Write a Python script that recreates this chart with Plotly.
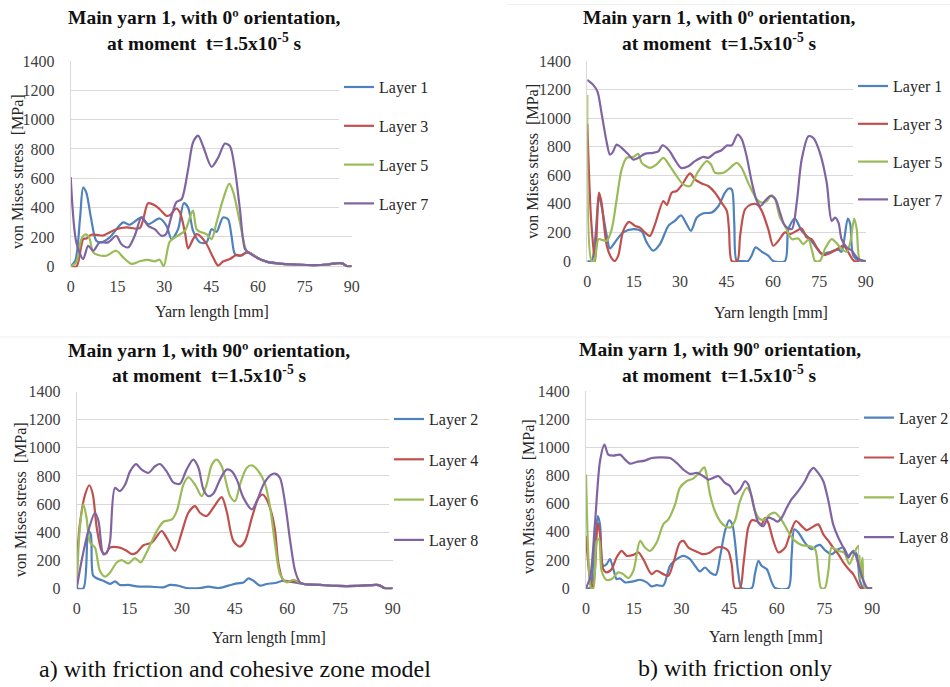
import plotly.graph_objects as go

# ---------------------------------------------------------------------------
# von Mises stress along main yarn 1 (x: yarn length [mm], y: stress [MPa])
# ---------------------------------------------------------------------------

# Common tail shared by all layers once the stress wave has passed
tail_x = [60, 63, 67, 72, 78, 82, 85, 87, 88.5, 90]
tail_y = [55, 30, 18, 12, 8, 12, 20, 20, 0, 0]

# (a) friction + cohesive zone model, 0 deg orientation
a0_l1_x = [0, 1.5, 3, 4.0, 5.0, 6.5, 8.2, 9.8, 12.5, 16.8, 18.9, 22.7, 24.8, 28.5, 30.7, 32.3, 34.4,
           36.2, 37.6, 39.2, 41.4, 43.5, 45.1, 46.7, 48.8, 50.4, 51.5, 52.6, 54.2, 56.3, 57.5] + tail_x
a0_l1_y = [0, 40, 330, 536, 502, 330, 174, 163, 197, 299, 283, 333, 287, 326, 276, 185, 253,
           430, 400, 242, 163, 163, 253, 235, 333, 321, 208, 84, 72, 95, 90] + tail_y

a0_l3_x = [0, 1.9, 4.0, 5.0, 6.6, 8.8, 10.4, 14.6, 17.9, 22.1, 24.8, 26.9, 28.5, 30.7, 31.7, 33.9, 35.0,
           36.6, 37.6, 39.2, 40.3, 41.4, 43.5, 45.6, 47.2, 48.8, 51.0, 53.1, 54.7, 56.3, 57.5] + tail_x
a0_l3_y = [0, 0, 185, 190, 215, 213, 210, 253, 265, 260, 430, 416, 389, 344, 348, 394, 366,
           231, 122, 185, 219, 208, 152, 61, 5, 32, 50, 77, 72, 95, 90] + tail_y

a0_l5_x = [0, 1.8, 3.4, 4.8, 5.9, 7.2, 8.8, 11.4, 14.6, 16.8, 19.5, 22.1, 24.8, 26.9, 28.5, 29.8, 31.7,
           33.9, 36.6, 38.7, 39.2, 40.3, 41.4, 43.5, 45.1, 46.7, 48.8, 50.8, 52.1, 54.2, 56.3, 57.5] + tail_x
a0_l5_y = [0, 27, 185, 217, 197, 95, 77, 72, 106, 61, 16, 34, 43, 34, 45, 0, 167,
           204, 242, 366, 380, 253, 235, 219, 185, 298, 457, 563, 502, 298, 106, 90] + tail_y

a0_l7_x = [0, 1.8, 4.0, 5.6, 7.2, 9.3, 12.0, 14.6, 16.2, 18.4, 20.5, 22.7, 24.8, 26.9, 29.1, 30.5, 32.3,
           33.9, 35.5, 37.6, 39.2, 40.8, 42.4, 45.1, 47.2, 49.4, 51.0, 52.6, 54.2, 55.8, 56.9] + tail_x
a0_l7_y = [608, 163, 50, 140, 106, 163, 163, 208, 152, 129, 208, 333, 276, 253, 208, 219, 344,
           439, 457, 660, 846, 891, 819, 679, 740, 837, 819, 660, 389, 118, 95] + tail_y

# (b) friction only, 0 deg orientation
b0_l1_x = [0, 1.4, 3.8, 4.6, 6.3, 7.3, 8.9, 11.6, 14.9, 17.6, 19.2, 21.3, 23.5, 26.2, 28.3, 30.3, 32.1,
           33.5, 35.4, 37.5, 40.2, 42.4, 44.5, 45.6, 46.7, 47.5, 48.3, 49.9, 52.0, 53.1, 54.4, 56.4, 58.5,
           60.1, 63.9, 65.0, 67.1, 69.3, 71.5, 73.6, 75.8, 77.9, 81.2, 82.2, 84.2, 85.0, 86.0, 88.2, 90]
b0_l1_y = [0, 0, 455, 385, 176, 88, 130, 200, 223, 207, 130, 72, 118, 246, 281, 320, 258,
           211, 304, 334, 339, 385, 478, 506, 501, 269, 0, 0, 0, 37, 95, 65, 37,
           0, 0, 223, 297, 211, 165, 107, 49, 60, 79, 65, 297, 258, 37, 0, 0]

b0_l3_x = [0, 1.2, 2.5, 3.8, 4.6, 6.3, 7.9, 8.9, 10.0, 11.6, 13.5, 15.4, 17.0, 19.2, 20.3, 21.9, 24.6,
           25.7, 27.3, 28.9, 30.5, 33.2, 34.8, 37.0, 39.1, 41.3, 43.4, 45.1, 45.8, 46.7, 48.5, 49.4, 51.0,
           53.1, 54.8, 56.4, 58.5, 60.1, 61.8, 63.9, 65.5, 67.7, 69.3, 70.9, 72.5, 74.2, 76.3, 78.5, 81.1,
           82.8, 84.4, 86.3, 90]
b0_l3_y = [960, 300, 0, 478, 409, 107, 19, 0, 37, 211, 274, 246, 234, 188, 176, 258, 420,
           392, 478, 490, 529, 613, 571, 543, 525, 478, 409, 351, 223, 0, 0, 176, 362,
           397, 397, 351, 223, 107, 142, 200, 188, 211, 228, 165, 153, 95, 42, 56, 88,
           107, 60, 0, 0]

b0_l5_x = [0, 1.4, 2.2, 3.6, 4.6, 6.3, 7.9, 9.5, 11.1, 12.7, 14.9, 16.5, 17.6, 20.3, 22.4, 24.6, 26.7,
           28.9, 31.0, 33.2, 35.9, 38.6, 40.0, 41.3, 44.0, 45.6, 48.3, 49.9, 52.0, 54.8, 56.4, 58.0, 59.6,
           60.7, 62.3, 63.9, 66.1, 68.2, 69.8, 71.5, 72.8, 73.6, 75.2, 76.8, 79.0, 80.6, 82.2, 83.9, 85.0,
           86.3, 87.1, 88.2, 90]
b0_l5_y = [1163, 0, 0, 153, 149, 142, 223, 432, 641, 722, 729, 750, 687, 652, 676, 722, 664,
           594, 536, 525, 629, 699, 676, 618, 618, 641, 687, 652, 548, 432, 409, 420, 460,
           432, 304, 246, 153, 158, 118, 149, 60, 0, 0, 84, 153, 125, 84, 65, 130,
           297, 223, 0, 0]

b0_l7_x = [0, 1.9, 3.3, 4.6, 6.3, 7.3, 8.1, 9.5, 11.1, 13.3, 14.9, 16.5, 18.6, 21.3, 23.0, 24.3, 26.2,
           28.3, 30.3, 32.7, 34.8, 37.5, 39.1, 41.3, 43.4, 45.1, 46.7, 48.6, 49.9, 51.5, 53.1, 54.8, 56.0,
           57.4, 59.1, 60.7, 62.3, 63.9, 66.1, 67.7, 69.3, 71.5, 73.1, 75.2, 77.4, 79.0, 80.1, 81.2, 82.2,
           83.9, 85.5, 87.6, 90]
b0_l7_y = [1268, 1233, 1186, 1036, 827, 745, 757, 815, 792, 745, 710, 722, 750, 757, 768, 810, 780,
           710, 652, 664, 699, 729, 722, 757, 775, 808, 810, 885, 854, 734, 560, 420, 385,
           420, 455, 437, 339, 246, 223, 409, 710, 873, 861, 757, 548, 281, 304, 269, 153,
           95, 72, 14, 0]

# (a) friction + cohesive zone model, 90 deg orientation
tail90_x = [64.6, 69.3, 74.1, 79.8, 85.5, 86.4, 87.8, 90]
tail90_y = [31, 24, 17, 17, 24, 19, 0, 0]

a90_l2_x = [0, 1.9, 3.3, 4.0, 4.7, 6.2, 7.6, 9.5, 10.9, 12.3, 14.7, 17.1, 20.9, 24.7, 26.6, 28.5, 31.3,
            35.1, 37.5, 40.4, 43.2, 45.6, 47.5, 48.9, 50.3, 52.2, 54.1, 56.5, 58.9, 60.8] + tail90_x
a90_l2_y = [0, 0, 408, 385, 90, 66, 54, 31, 50, 24, 24, 14, 12, 7, 24, 21, 2,
            2, 12, 2, 19, 35, 42, 71, 54, 19, 31, 38, 54, 47] + tail90_y

a90_l4_x = [0, 0.9, 2.4, 3.6, 4.6, 5.7, 7.1, 8.1, 9.5, 12.3, 14.2, 15.7, 17.1, 19.0, 21.4, 24.2, 25.6,
            28.0, 29.9, 31.8, 33.7, 35.1, 37.0, 38.9, 41.3, 42.7, 44.6, 46.5, 48.0, 49.9, 51.8, 53.0, 54.1,
            55.6, 56.5, 57.5, 58.9, 60.8, 62.7] + tail90_x
a90_l4_y = [172, 456, 668, 734, 668, 432, 267, 243, 290, 290, 267, 243, 255, 307, 326, 408, 361,
            267, 397, 538, 585, 538, 515, 574, 649, 550, 338, 297, 338, 503, 644, 668, 633,
            526, 408, 172, 54, 47, 47] + tail90_y

a90_l6_x = [0, 0.9, 1.9, 2.8, 3.8, 5.2, 6.6, 8.1, 9.5, 11.4, 12.8, 14.7, 16.6, 18.2, 19.9, 22.8, 24.7,
            27.1, 28.5, 30.4, 31.8, 33.7, 35.6, 37.0, 38.5, 39.9, 41.3, 43.7, 45.1, 46.5, 48.4, 49.9, 51.8,
            53.7, 55.1, 56.5, 57.9, 59.8, 61.7, 63.6] + tail90_x
a90_l6_y = [0, 432, 597, 503, 326, 290, 125, 83, 113, 184, 201, 177, 215, 184, 255, 408, 474,
            491, 550, 739, 791, 739, 656, 739, 881, 916, 869, 656, 621, 739, 857, 876, 833,
            739, 574, 314, 102, 42, 61, 42] + tail90_y

a90_l8_x = [0, 1.4, 3.3, 5.2, 6.2, 7.6, 8.6, 9.5, 10.9, 12.3, 13.8, 15.2, 16.9, 18.5, 20.4, 22.3, 23.7,
            25.6, 27.5, 29.4, 31.3, 33.2, 34.7, 36.1, 37.5, 38.9, 40.8, 42.7, 44.2, 45.6, 47.5, 49.9, 51.3,
            53.2, 55.1, 56.5, 57.9, 59.4, 60.8, 62.2, 63.6] + tail90_x
a90_l8_y = [0, 196, 408, 538, 479, 243, 255, 338, 715, 692, 739, 833, 885, 845, 822, 869, 885,
            833, 755, 744, 845, 916, 857, 703, 656, 673, 774, 845, 833, 774, 644, 562, 621,
            739, 805, 817, 786, 597, 338, 125, 42] + tail90_y

# (b) friction only, 90 deg orientation
b90_l2_x = [0, 1.3, 2.3, 3.7, 4.4, 5.4, 6.5, 7.5, 8.6, 9.6, 10.7, 12.3, 14.9, 17.0, 19.1, 20.6, 22.2,
            24.3, 26.4, 28.5, 30.6, 32.7, 34.3, 35.8, 37.4, 39.0, 40.8, 42.1, 43.7, 45.0, 46.0, 46.8, 47.9,
            48.9, 52.1, 53.1, 54.2, 55.2, 56.8, 58.4, 59.4, 63.6, 64.6, 65.5, 66.8, 68.8, 70.9, 72.5, 73.6,
            75.1, 77.2, 79.3, 80.9, 82.5, 84.0, 85.1, 86.1, 87.2, 90]
b90_l2_y = [0, 0, 194, 512, 453, 158, 170, 205, 135, 64, 68, 40, 47, 59, 40, 12, 21,
            17, 158, 205, 229, 205, 158, 118, 146, 111, 94, 217, 406, 482, 453, 335, 99,
            0, 0, 99, 194, 158, 135, 40, 0, 0, 217, 418, 394, 323, 276, 300, 307,
            269, 241, 276, 288, 229, 264, 241, 52, 0, 0]

b90_l4_x = [0, 1.3, 2.0, 2.8, 3.7, 4.4, 5.4, 6.5, 8.1, 9.6, 11.2, 12.8, 14.9, 16.5, 18.0, 20.6, 22.2,
            24.3, 25.9, 27.5, 29.5, 30.6, 32.2, 34.3, 36.9, 39.0, 41.1, 43.2, 44.7, 45.8, 46.8, 48.4, 49.5,
            51.0, 52.1, 53.6, 55.2, 56.3, 57.3, 58.9, 60.5, 62.6, 64.1, 66.0, 67.8, 69.4, 70.9, 73.0, 74.6,
            76.2, 77.7, 79.3, 80.9, 82.5, 84.0, 85.1, 86.4, 90]
b90_l4_y = [371, 52, 0, 123, 465, 382, 135, 111, 135, 217, 264, 229, 236, 253, 205, 99, 123,
            99, 87, 182, 323, 335, 288, 264, 241, 253, 288, 288, 264, 170, 0, 0, 170,
            430, 482, 477, 453, 500, 465, 335, 253, 288, 382, 477, 441, 411, 430, 453, 382,
            335, 288, 241, 182, 135, 99, 52, 0, 0]

b90_l6_x = [0, 0.9, 1.6, 2.3, 3.4, 4.1, 4.9, 6.5, 8.1, 10.2, 11.7, 13.3, 14.9, 17.0, 18.5, 20.1, 22.2,
            24.3, 25.9, 28.0, 29.5, 31.6, 33.7, 35.3, 37.2, 37.9, 39.0, 40.5, 42.1, 43.7, 45.3, 46.8, 48.4,
            50.5, 51.9, 53.1, 54.7, 56.3, 57.8, 59.4, 61.0, 62.6, 64.1, 65.7, 67.8, 69.9, 72.0, 73.0, 73.9,
            75.1, 76.2, 77.2, 79.3, 81.1, 82.8, 84.2, 85.6, 86.2, 86.9, 87.7, 90]
b90_l6_y = [807, 146, 0, 0, 335, 347, 123, 57, 64, 111, 99, 71, 123, 335, 288, 264, 323,
            453, 489, 595, 713, 760, 779, 812, 859, 807, 666, 548, 477, 441, 430, 477, 619,
            713, 666, 548, 489, 489, 524, 536, 500, 441, 382, 335, 305, 300, 276, 123, 0,
            0, 123, 288, 264, 253, 170, 241, 300, 60, 217, 0, 0]

b90_l8_x = [0, 1.3, 2.8, 4.4, 5.8, 7.0, 8.6, 10.7, 12.3, 13.8, 15.9, 18.5, 20.6, 23.3, 26.4, 28.5, 30.6,
            32.7, 34.8, 36.9, 38.5, 40.0, 41.6, 43.7, 45.3, 46.8, 48.4, 50.0, 51.0, 52.6, 54.2, 55.7, 57.3,
            58.9, 60.2, 61.5, 63.1, 64.6, 66.7, 68.8, 70.4, 71.5, 73.0, 74.6, 76.2, 77.7, 79.3, 80.9, 82.5,
            83.5, 84.6, 85.6, 87.2, 88.5, 90]
b90_l8_y = [0, 75, 453, 902, 1020, 949, 942, 949, 914, 885, 897, 907, 925, 930, 925, 890, 843,
            812, 819, 796, 772, 784, 796, 748, 725, 670, 701, 760, 737, 595, 465, 441, 500,
            489, 472, 500, 571, 630, 689, 760, 831, 855, 819, 760, 619, 453, 359, 288, 217,
            253, 241, 170, 52, 0, 0]

# ---------------------------------------------------------------------------
W, H = 950, 687
BLUE, RED, GREEN, PURPLE = "#4F81BD", "#C0504D", "#9BBB59", "#8064A2"
SERIF = "Liberation Serif"
GRID = "#D9D9D9"
TICK_TEXT = "#404040"


def px_x(p):
    return p / W


def px_y(p):
    return 1 - p / H


# plot-area boxes in pixels: (left, right, top, bottom)
boxes = {
    1: (70.7, 351.7, 61.0, 267.3),
    2: (587.3, 865.7, 61.0, 262.0),
    3: (76.7, 392.7, 391.7, 589.3),
    4: (586.0, 872.3, 391.3, 589.0),
}

panels = [
    (1, "legend", [("Layer 1", a0_l1_x, a0_l1_y, BLUE), ("Layer 3", a0_l3_x, a0_l3_y, RED),
                   ("Layer 5", a0_l5_x, a0_l5_y, GREEN), ("Layer 7", a0_l7_x, a0_l7_y, PURPLE)]),
    (2, "legend2", [("Layer 1", b0_l1_x, b0_l1_y, BLUE), ("Layer 3", b0_l3_x, b0_l3_y, RED),
                    ("Layer 5", b0_l5_x, b0_l5_y, GREEN), ("Layer 7", b0_l7_x, b0_l7_y, PURPLE)]),
    (3, "legend3", [("Layer 2", a90_l2_x, a90_l2_y, BLUE), ("Layer 4", a90_l4_x, a90_l4_y, RED),
                    ("Layer 6", a90_l6_x, a90_l6_y, GREEN), ("Layer 8", a90_l8_x, a90_l8_y, PURPLE)]),
    (4, "legend4", [("Layer 2", b90_l2_x, b90_l2_y, BLUE), ("Layer 4", b90_l4_x, b90_l4_y, RED),
                    ("Layer 6", b90_l6_x, b90_l6_y, GREEN), ("Layer 8", b90_l8_x, b90_l8_y, PURPLE)]),
]

fig = go.Figure()
layout = dict(
    width=W, height=H,
    margin=dict(l=0, r=0, t=0, b=0, autoexpand=False),
    paper_bgcolor="white", plot_bgcolor="white",
    font=dict(family=SERIF, size=16, color=TICK_TEXT),
    annotations=[], shapes=[],
)

for idx, legend_id, series in panels:
    l, r, t, b = boxes[idx]
    xa = "xaxis" if idx == 1 else f"xaxis{idx}"
    ya = "yaxis" if idx == 1 else f"yaxis{idx}"
    xref = "x" if idx == 1 else f"x{idx}"
    yref = "y" if idx == 1 else f"y{idx}"
    for name, xs, ys, col in series:
        fig.add_trace(go.Scatter(
            x=xs, y=ys, name=name, mode="lines",
            line=dict(color=col, width=2.2, shape="spline", smoothing=0.8),
            xaxis=xref, yaxis=yref, legend=legend_id,
            legendgroup=f"{legend_id}-{name}",
        ))
    layout[xa] = dict(
        domain=[px_x(l), px_x(r)], anchor=yref, range=[0, 90],
        tickvals=[0, 15, 30, 45, 60, 75, 90], showgrid=False, zeroline=False,
        showline=False, ticks="", ticklabelstandoff=8,
        tickfont=dict(family=SERIF, size=16, color=TICK_TEXT),
    )
    layout[ya] = dict(
        domain=[px_y(b), px_y(t)], anchor=xref, range=[-7, 1400],
        tickvals=[0, 200, 400, 600, 800, 1000, 1200, 1400],
        showgrid=True, gridcolor=GRID, gridwidth=1,
        zeroline=False, showline=True, linecolor=GRID, linewidth=1,
        ticks="", ticklabelstandoff=12,
        tickfont=dict(family=SERIF, size=16, color=TICK_TEXT),
    )

# legends: one per panel, white box over the right end of the grid
legend_pos = {
    "legend": (339, 70.1, 15),
    "legend2": (853, 69.1, 14),
    "legend3": (389, 402.1, 16.5),
    "legend4": (859, 400.8, 16),
}
for lid, (lx, ly, gap) in legend_pos.items():
    layout[lid] = dict(
        x=px_x(lx), y=px_y(ly), xanchor="left", yanchor="top",
        bgcolor="white", borderwidth=0, tracegroupgap=gap,
        font=dict(family=SERIF, size=16, color="#262626"),
        itemclick=False, itemdoubleclick=False,
    )

# panel titles
TITLE_FONT = dict(family=SERIF, size=19.5, color="#111111", weight="bold")
titles = [
    (204.5, 17.5, 41.5, "0º"),
    (719, 17.5, 41.5, "0º"),
    (209, 350, 374, "90º"),
    (719.5, 349.5, 373.5, "90º"),
]
for cx, y1, y2, ang in titles:
    layout["annotations"].append(dict(
        x=px_x(cx), y=px_y(y1), xref="paper", yref="paper", showarrow=False,
        text=f"Main yarn 1, with {ang} orientation,", font=TITLE_FONT,
        xanchor="center", yanchor="middle"))
    layout["annotations"].append(dict(
        x=px_x(cx), y=px_y(y2), xref="paper", yref="paper", showarrow=False,
        text="at moment  t=1.5x10<sup>-5</sup> s", font=TITLE_FONT,
        xanchor="center", yanchor="middle"))

# axis titles
AX_FONT = dict(family=SERIF, size=16, color="#262626")
xtitles = [(212, 312), (771, 313), (268.7, 638), (766, 637)]
for cx, cy in xtitles:
    layout["annotations"].append(dict(
        x=px_x(cx), y=px_y(cy), xref="paper", yref="paper", showarrow=False,
        text="Yarn length [mm]", font=AX_FONT, xanchor="center", yanchor="middle"))
ytitles = [(17, 172), (531.7, 161), (20, 500), (528, 497)]
for cx, cy in ytitles:
    layout["annotations"].append(dict(
        x=px_x(cx), y=px_y(cy), xref="paper", yref="paper", showarrow=False,
        text="von Mises stress  [MPa]", font=AX_FONT, textangle=-90,
        xanchor="center", yanchor="middle"))

# captions under the two columns
CAP_FONT = dict(family=SERIF, size=24, color="#111111")
layout["annotations"].append(dict(
    x=px_x(235), y=px_y(669), xref="paper", yref="paper", showarrow=False,
    text="a) with friction and cohesive zone model", font=CAP_FONT,
    xanchor="center", yanchor="middle"))
layout["annotations"].append(dict(
    x=px_x(734.5), y=px_y(668), xref="paper", yref="paper", showarrow=False,
    text="b) with friction only", font=CAP_FONT, xanchor="center", yanchor="middle"))

# faint chart-area borders
for x0, x1, yy in [(507, 950, 4.5), (0, 475, 337), (475, 950, 337)]:
    layout["shapes"].append(dict(
        type="line", xref="paper", yref="paper",
        x0=px_x(x0), x1=px_x(x1), y0=px_y(yy), y1=px_y(yy),
        line=dict(color="#F0F0F0", width=1)))

fig.update_layout(**layout)
fig.write_html("out.html")
